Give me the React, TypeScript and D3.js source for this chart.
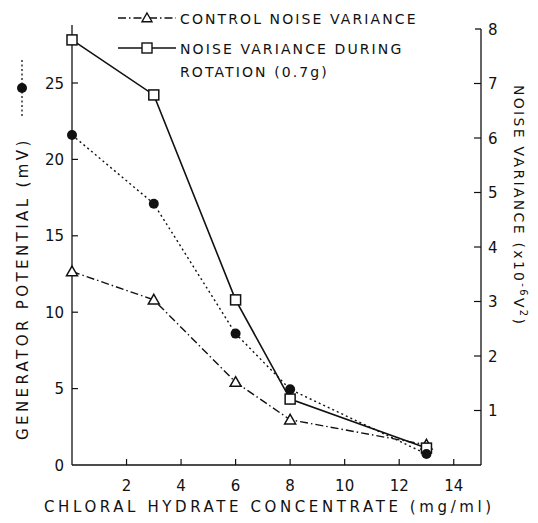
import React from "react";
import * as d3 from "d3";

const concentrations = [0, 3, 6, 8, 13];
const rotationVariance = [7.8, 6.79, 3.03, 1.21, 0.31];
const controlVariance = [3.55, 3.03, 1.52, 0.83, 0.37];
const generatorPotential = [21.6, 17.1, 8.6, 4.95, 0.72];
const xTicks = [2, 4, 6, 8, 10, 12, 14];
const leftTicks = [0, 5, 10, 15, 20, 25];
const rightTicks = [1, 2, 3, 4, 5, 6, 7, 8];

const W = 538;
const H = 523;
const FONT = "'DejaVu Sans', sans-serif";

export default function App() {
  const x = d3.scaleLinear().domain([0, 15]).range([72, 481]);
  const yL = d3.scaleLinear().domain([0, 25]).range([465, 83]);
  const yR = d3.scaleLinear().domain([0, 8]).range([465, 29]);

  const pts = (vals: number[], y: d3.ScaleLinear<number, number>) =>
    concentrations.map((c, i) => [x(c), y(vals[i])] as [number, number]);
  const line = d3.line<[number, number]>();

  const rot = pts(rotationVariance, yR);
  const ctl = pts(controlVariance, yR);
  const gen = pts(generatorPotential, yL);

  const tri = (cx: number, cy: number, s = 5.5) =>
    `M${cx},${cy - s}L${cx + s},${cy + s * 0.75}L${cx - s},${cy + s * 0.75}Z`;

  const stroke = "#111";
  return (
    <svg width={W} height={H} style={{ position: "absolute", left: 0, top: 0, background: "#fff" }}>
      <rect width={W} height={H} fill="#fff" />
      {/* axes */}
      <line x1={x(0)} x2={x(0)} y1={25} y2={465} stroke={stroke} strokeWidth={1.3} />
      <line x1={x(15)} x2={x(15)} y1={29} y2={465} stroke={stroke} strokeWidth={1.3} />
      <line x1={x(0)} x2={x(15)} y1={465} y2={465} stroke={stroke} strokeWidth={1.3} />
      <line x1={x(15) - 6} x2={x(15)} y1={29} y2={29} stroke={stroke} strokeWidth={1.3} />
      {xTicks.map((t) => (
        <g key={"x" + t}>
          <line x1={x(t)} x2={x(t)} y1={465} y2={459} stroke={stroke} strokeWidth={1.2} />
          <text x={x(t)} y={491} textAnchor="middle" fontFamily={FONT} fontSize={15} fill={stroke}>
            {t}
          </text>
        </g>
      ))}
      {leftTicks.map((t) => (
        <g key={"l" + t}>
          {t > 0 && <line x1={x(0)} x2={x(0) + 6} y1={yL(t)} y2={yL(t)} stroke={stroke} strokeWidth={1.2} />}
          <text x={x(0) - 8} y={yL(t) + 5.5} textAnchor="end" fontFamily={FONT} fontSize={15} fill={stroke}>
            {t}
          </text>
        </g>
      ))}
      {rightTicks.map((t) => (
        <g key={"r" + t}>
          {t < 8 && <line x1={x(15) - 7} x2={x(15)} y1={yR(t)} y2={yR(t)} stroke={stroke} strokeWidth={1.2} />}
          <text x={x(15) + 7} y={yR(t) + 5.5} textAnchor="start" fontFamily={FONT} fontSize={15} fill={stroke}>
            {t}
          </text>
        </g>
      ))}

      {/* series lines */}
      <path d={line(gen) || ""} fill="none" stroke={stroke} strokeWidth={1.4} strokeDasharray="2,3" />
      <path d={line(ctl) || ""} fill="none" stroke={stroke} strokeWidth={1.4} strokeDasharray="8,3,1.5,3" />
      <path d={line(rot) || ""} fill="none" stroke={stroke} strokeWidth={1.6} />

      {/* markers */}
      {ctl.map(([cx, cy], i) => (
        <path key={"t" + i} d={tri(cx, cy)} fill="#fff" stroke={stroke} strokeWidth={1.5} />
      ))}
      {rot.map(([cx, cy], i) => (
        <rect key={"s" + i} x={cx - 5} y={cy - 5} width={10} height={10} fill="#fff" stroke={stroke} strokeWidth={1.5} />
      ))}
      {gen.map(([cx, cy], i) => (
        <circle key={"c" + i} cx={cx} cy={cy} r={5} fill={stroke} />
      ))}

      {/* legend */}
      <line x1={118} x2={176} y1={18} y2={18} stroke={stroke} strokeWidth={1.4} strokeDasharray="8,3,1.5,3" />
      <path d={tri(147, 18, 5)} fill="#fff" stroke={stroke} strokeWidth={1.4} />
      <text x={180} y={24} fontFamily={FONT} fontSize={14} letterSpacing={2.1} fill={stroke}>
        CONTROL NOISE VARIANCE
      </text>
      <line x1={118} x2={176} y1={48} y2={48} stroke={stroke} strokeWidth={1.6} />
      <rect x={142} y={43} width={10} height={10} fill="#fff" stroke={stroke} strokeWidth={1.4} />
      <text x={180} y={54} fontFamily={FONT} fontSize={14} letterSpacing={2.1} fill={stroke}>
        NOISE VARIANCE DURING
      </text>
      <text x={180} y={77} fontFamily={FONT} fontSize={14} letterSpacing={2.1} fill={stroke}>
        ROTATION (0.7g)
      </text>

      {/* left axis label */}
      <g transform="translate(28,440) rotate(-90)">
        <text x={0} y={0} fontFamily={FONT} fontSize={15} letterSpacing={3.4} fill={stroke}>
          GENERATOR POTENTIAL (mV)
        </text>
      </g>
      <line x1={22} x2={22} y1={60} y2={118} stroke={stroke} strokeWidth={1.3} strokeDasharray="2,2.5" />
      <circle cx={22} cy={88} r={5} fill={stroke} />

      {/* right axis label */}
      <g transform="translate(514,85) rotate(90)">
        <text x={0} y={0} fontFamily={FONT} fontSize={14} letterSpacing={2.3} fill={stroke}>
          NOISE VARIANCE (x10
          <tspan dy={-6} fontSize={10}>-6</tspan>
          <tspan dy={6}>V</tspan>
          <tspan dy={-6} fontSize={10}>2</tspan>
          <tspan dy={6}>)</tspan>
        </text>
      </g>

      {/* x axis label */}
      <text x={44} y={512} fontFamily={FONT} fontSize={15} letterSpacing={3.6} fill={stroke}>
        CHLORAL HYDRATE CONCENTRATE (mg/ml)
      </text>
    </svg>
  );
}
